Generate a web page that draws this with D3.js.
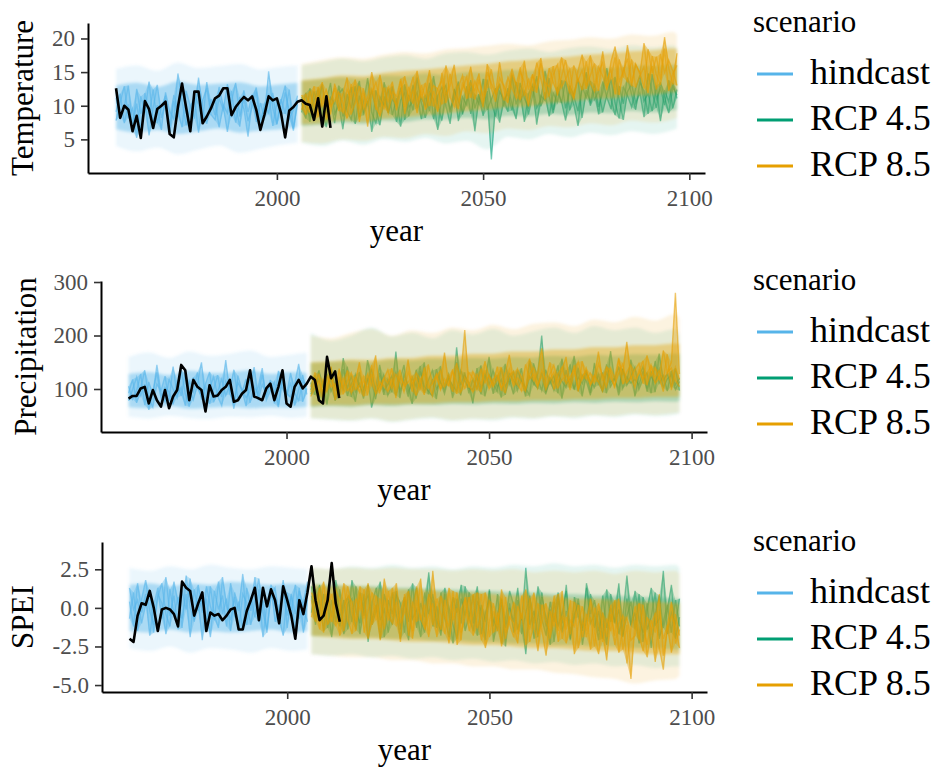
<!DOCTYPE html>
<html>
<head>
<meta charset="utf-8">
<script src="https://cdn.jsdelivr.net/npm/d3@7"></script>
<style>
  body { margin: 0; background: #fff; }
  svg { display: block; font-family: "Liberation Serif", "Times New Roman", serif; }
</style>
</head>
<body>
<div id="chart-div"></div>
<script>
// ---------- data ----------
const obsStart = 1961;
const hindStart = 1961;
const rcpStart = 2006;
const scenarios = ['hindcast', 'RCP 4.5', 'RCP 8.5'];
const scenarioColors = ['#56B4E9', '#009E73', '#E69F00'];
const yearTicks = [2000, 2050, 2100];

// years at which the ensemble spread was read
const hindKnots = [1961, 1966, 1971, 1976, 1981, 1986, 1991, 1996, 2001, 2005];
const rcpKnots = [2006, 2011, 2016, 2021, 2026, 2031, 2036, 2041, 2046, 2051,
                  2056, 2061, 2066, 2071, 2076, 2081, 2086, 2091, 2096, 2097];

// temperature
const tempObs = [12.6,8.2,10.0,9.4,6.2,8.5,5.2,10.7,9.5,6.7, 9.5,10.0,10.6,5.8,5.3,9.8,13.3,9.7,6.2,12.1,
  12.1,7.4,8.4,9.6,11.1,11.5,12.6,12.6,8.6,9.8, 10.6,11.3,10.8,11.4,9.4,6.4,8.7,11.4,10.8,11.1,
  8.9,5.3,9.3,9.8,10.6,10.8,10.3,10.1,7.9,11.1, 6.9,11.4,6.7];
const tempHindcast = [
  [9.1,11.8,7.4,10.2,6.3,12.5,8.8,10.9,5.6,9.7, 13.1,8.2,10.4,7.0,11.6,9.3,6.8,12.2,10.0,8.1,
   14.2,9.5,7.3,11.0,8.6,12.8,9.9,6.1,10.7,13.4, 8.4,11.2,7.7,9.8,12.1,6.5,10.3,8.9,11.9,7.2, 10.6,13.0,8.0,9.4,11.5],
  [7.8,10.5,12.9,8.3,9.6,5.2,11.4,9.0,13.6,7.5, 10.1,6.4,12.0,9.2,8.0,14.8,10.6,7.1,9.9,11.3,
   6.0,10.8,12.6,8.7,7.9,11.1,9.4,13.2,8.5,10.0, 6.9,12.3,9.1,11.7,7.6,10.4,8.2,15.1,9.7,7.3, 11.0,8.8,12.4,6.6,10.2],
  [11.2,8.4,9.9,13.0,7.1,10.3,6.2,11.9,8.6,12.4, 7.4,9.8,11.5,5.9,10.7,8.3,12.9,9.0,6.7,11.4,
   10.2,7.8,13.5,9.3,11.0,6.8,10.1,8.9,12.2,7.5, 11.3,9.5,5.4,10.8,12.7,8.1,9.6,11.8,7.0,10.5, 8.7,12.0,9.2,6.3,10.9]
];
const tempRcp45 = [
  [10.4,8.1,12.6,9.3,11.8,7.2,10.9,13.4,8.8,10.1, 6.5,11.7,9.6,12.9,8.3,10.6,14.1,9.0,7.4,11.3,
   10.0,12.5,8.6,11.1,6.9,13.2,9.8,10.7,12.0,8.0, 11.6,9.2,14.4,10.3,7.8,12.2,9.5,11.0,13.6,8.7,
   10.8,12.7,6.2,11.4,9.9,13.9,10.5,8.4,12.1,11.0, 9.1,14.6,10.2,12.4,7.6,11.8,13.1,9.7,10.9,15.2,
   11.5,8.9,12.8,10.4,13.7,9.3,11.9,14.0,8.2,12.3, 10.6,13.3,9.8,12.0,15.6,11.1,8.6,12.9,10.3,14.2,
   11.7,9.4,13.5,12.2,8.8,14.7,11.0,12.6,10.1,13.8, 9.6,12.4],
  [9.0,11.9,7.6,10.8,12.4,9.5,6.8,11.2,10.3,13.0, 8.4,10.0,12.8,7.3,11.5,9.1,10.7,6.1,12.3,9.8,
   13.5,8.9,11.0,10.2,12.7,7.9,11.6,9.3,14.2,10.5, 8.2,12.0,10.9,6.4,11.8,13.1,9.0,12.5,7.7,11.3,
   10.1,13.8,9.6,11.7,8.5,12.2,2.0,10.4,13.3,9.9, 12.6,10.3,8.0,13.4,11.1,9.7,12.9,7.2,11.5,10.8,
   14.1,9.4,12.2,10.6,7.8,13.0,11.4,9.2,12.7,15.0, 10.0,12.5,8.7,13.6,11.2,9.5,14.3,10.8,7.9,12.1,
   13.2,10.4,11.9,8.3,14.8,12.0,9.7,13.5,11.3,8.9, 12.8,11.6],
  [11.3,9.7,8.5,12.1,10.0,13.2,8.9,10.6,7.4,11.8, 12.5,9.2,7.9,11.0,13.7,8.6,10.4,12.2,9.5,7.1,
   11.4,9.0,12.9,7.6,10.8,11.9,8.4,13.1,9.7,11.2, 10.0,13.4,8.0,11.5,12.8,9.9,7.3,12.4,10.7,9.1,
   12.9,8.8,11.6,10.2,14.0,9.4,11.0,12.6,7.5,10.9, 11.8,9.3,13.5,10.6,12.1,8.7,11.4,14.4,9.9,12.0,
   8.4,11.9,10.5,13.8,9.6,12.4,10.1,7.0,12.9,11.2, 13.7,10.9,12.2,9.0,11.6,13.9,10.4,8.1,12.8,11.5,
   9.8,12.6,14.5,10.7,11.8,9.2,13.0,7.7,12.3,10.6, 13.4,11.1]
];
const tempRcp85 = [
  [10.9,8.6,12.2,9.8,11.4,13.5,7.9,10.7,12.6,9.2, 11.8,14.2,8.7,10.4,12.9,9.6,11.3,15.0,10.1,8.4,
   12.7,10.5,13.6,9.3,11.9,14.4,10.8,12.3,8.9,13.1, 11.2,15.3,9.9,12.6,13.8,10.4,14.7,11.7,9.5,13.3,
   12.0,15.8,10.9,13.9,11.4,16.2,12.5,10.6,14.1,13.0, 11.6,15.5,13.2,10.8,16.7,12.4,14.6,11.9,17.1,13.5,
   12.8,15.9,11.5,14.3,16.8,13.1,10.9,15.2,17.6,12.9, 14.5,16.3,12.2,18.1,13.8,15.4,11.7,16.9,14.2,19.0,
   13.4,16.1,15.0,12.6,18.4,14.8,17.3,13.9,20.2,15.6, 13.2,17.8],
  [9.4,11.7,10.3,7.8,12.8,10.0,11.5,8.7,13.3,10.6, 9.0,12.4,11.0,13.9,7.6,11.9,10.2,12.7,9.4,14.6,
   10.7,8.9,12.1,11.4,14.0,9.8,12.8,10.3,15.2,11.1, 13.4,10.0,12.2,9.1,14.9,11.6,13.0,16.1,10.5,12.5,
   14.3,11.2,13.6,12.1,9.8,15.0,13.3,11.8,16.5,12.6, 10.4,14.8,13.1,15.7,11.5,13.9,12.2,16.4,14.0,10.9,
   15.6,13.4,12.0,17.2,14.1,11.8,16.0,13.7,15.3,12.5, 17.5,13.0,15.8,14.4,12.3,16.6,18.8,13.6,15.1,17.0,
   12.9,16.2,14.7,19.3,13.8,15.9,12.4,17.7,14.9,16.8, 15.2,13.0],
  [11.6,10.2,9.1,12.9,8.3,11.0,12.4,9.9,10.8,12.0, 10.5,8.1,13.2,11.4,9.7,12.6,6.9,11.8,13.5,10.9,
   9.6,12.8,11.2,10.1,13.7,8.8,11.5,14.3,10.6,12.2, 9.4,11.9,13.0,12.5,10.2,16.0,11.3,9.8,12.9,14.5,
   11.0,13.4,12.2,14.8,10.5,12.7,15.4,11.9,13.1,10.8, 14.2,12.6,11.1,15.1,13.5,9.9,14.7,12.4,16.3,13.0,
   11.4,14.6,16.1,12.7,13.9,15.5,11.2,14.0,12.3,16.6, 13.3,12.1,15.0,16.4,12.8,14.1,17.2,11.6,15.7,13.5,
   16.9,12.7,14.4,15.8,11.9,17.4,14.6,13.1,18.5,12.2, 14.8,16.0]
];
// spread of all runs: [outer low, outer high, dense low, dense high]
const tempHindSpread = [
  [4.0,3.2,3.8,2.8,3.5,4.1,3.0,3.6,4.2,4.5],
  [15.5,16.0,15.2,16.4,15.6,15.9,16.2,15.4,15.8,16.0],
  [6.5,6.0,6.4,5.8,6.2,6.6,6.0,6.3,6.5,6.8],
  [13.0,13.4,12.8,13.6,13.1,13.3,13.5,12.9,13.2,13.4]
];
const tempRcp45Spread = [
  [4.5,4.0,4.8,4.2,5.0,4.6,5.2,4.4,4.8,3.5,5.4,5.0,5.8,5.3,6.0,5.6,6.2,5.8,6.4,6.6],
  [16.0,16.5,17.0,16.6,17.2,17.5,17.0,17.8,18.0,17.6,18.2,18.5,18.0,18.6,18.8,18.4,19.0,18.7,19.0,18.5],
  [7.0,7.2,7.5,7.3,7.8,7.6,8.0,7.9,8.2,8.0,8.5,8.4,8.8,8.6,9.0,8.9,9.2,9.0,9.3,9.4],
  [13.6,13.9,14.2,14.0,14.5,14.4,14.8,14.6,15.0,14.9,15.3,15.2,15.5,15.4,15.8,15.6,16.0,15.9,16.1,16.0]
];
const tempRcp85Spread = [
  [4.6,4.4,5.0,4.8,5.4,5.2,5.8,5.5,6.2,5.9,6.6,6.4,7.0,6.8,7.4,7.1,7.8,7.5,8.0,8.2],
  [16.2,16.8,17.2,17.0,17.6,18.0,17.8,18.4,18.6,18.9,19.2,19.0,19.6,19.8,20.2,20.0,20.6,20.4,21.0,20.6],
  [7.2,7.4,7.8,7.6,8.1,8.3,8.6,8.8,9.2,9.4,9.8,9.9,10.4,10.6,11.0,11.1,11.5,11.6,12.0,12.0],
  [13.8,14.1,14.5,14.4,14.9,15.2,15.4,15.7,16.0,16.2,16.6,16.8,17.1,17.3,17.6,17.8,18.1,18.2,18.5,18.4]
];
const tempTicks = [5, 10, 15, 20];

// precipitation
const precipObs = [82,87,87,101,104,73,98,79,67,98, 64,86,98,145,135,79,117,104,98,58,
  107,86,88,98,104,117,76,79,91,98, 135,86,83,79,101,110,79,104,135,73,
  67,104,117,101,110,123,117,79,73,160, 120,133,83];
const precipHindcast = [
  [92,118,74,101,135,83,66,109,97,124, 78,142,88,103,69,115,95,131,80,106,
   72,99,126,85,154,90,77,112,98,68, 121,87,104,139,79,96,113,70,128,93, 84,110,147,76,101],
  [105,81,97,128,70,113,89,145,94,76, 118,100,83,136,91,67,122,102,86,110,
   132,75,95,119,88,107,63,125,98,84, 96,141,79,108,92,117,73,134,101,87, 112,69,99,126,90],
  [78,99,122,88,109,61,94,131,83,103, 95,71,116,87,129,99,80,108,150,77,
   101,123,86,69,114,97,136,82,93,119, 74,105,90,127,85,111,98,66,120,89, 130,92,78,115,104]
];
const precipRcp45 = [
  [98,126,84,115,71,140,102,93,158,87, 110,76,132,99,121,65,104,145,89,118,
   94,170,83,127,108,72,136,101,150,90, 119,81,143,106,128,95,178,88,124,112,
   73,139,102,116,160,91,125,84,147,109, 132,97,118,86,153,107,129,200,94,121,
   111,144,82,135,103,162,96,126,115,88, 149,107,131,92,171,118,99,138,113,155,
   86,124,142,101,133,94,166,117,128,105, 139,97],
  [112,89,135,103,95,121,78,118,99,142, 85,127,106,92,154,114,81,130,97,108,
   125,88,119,145,94,110,82,133,105,96, 87,137,112,99,122,83,150,107,131,92,
   118,101,144,86,127,112,95,139,104,121, 90,134,115,102,88,148,119,97,136,110,
   125,92,157,108,119,101,140,86,131,116, 103,128,94,146,112,121,88,137,107,124,
   141,99,118,130,92,152,111,125,96,134, 108,120],
  [90,105,118,80,128,96,112,84,137,101, 124,95,110,82,116,138,92,105,127,88,
   108,131,97,115,86,122,104,143,93,117, 135,100,113,91,120,107,96,134,115,101,
   99,123,90,128,108,135,103,118,89,129, 116,106,139,93,124,112,101,131,90,118,
   97,129,114,103,146,99,122,110,135,93, 126,115,97,133,104,119,142,101,123,111,
   118,107,133,95,124,112,137,103,119,126, 99,114]
];
const precipRcp85 = [
  [104,131,88,117,96,142,79,123,101,135, 92,114,150,86,127,105,163,97,120,111,
   139,83,124,108,155,95,131,118,89,146, 112,128,99,168,106,137,91,124,210,103,
   133,115,94,152,121,108,142,97,129,164, 110,138,123,99,157,116,131,176,104,127,
   145,112,134,160,98,129,151,118,139,107, 124,170,115,142,131,101,155,126,188,119,
   136,148,110,163,125,140,117,172,131,150, 280,128],
  [95,112,128,82,109,121,97,138,90,114, 130,99,107,124,88,145,111,93,119,136,
   102,127,115,94,132,109,121,98,140,112, 87,119,135,104,126,95,149,115,101,131,
   120,99,138,112,126,104,117,141,92,124, 133,108,96,146,119,128,102,135,117,150,
   99,128,141,110,123,136,95,152,118,130, 112,147,126,104,139,121,158,109,132,145,
   118,129,153,107,141,122,134,116,165,98, 140,118],
  [86,101,115,93,124,104,110,88,119,97, 105,121,94,116,101,128,90,113,106,95,
   118,99,136,105,112,124,87,117,129,102, 110,125,98,119,106,132,114,93,122,108,
   94,127,109,135,100,118,126,103,112,137, 105,121,111,96,128,140,107,124,99,118,
   131,102,117,126,111,144,98,123,134,109, 125,113,96,138,120,106,129,147,111,122,
   102,135,119,128,145,110,123,95,131,139, 116,104]
];
const precipHindSpread = [
  [48,45,50,46,44,48,47,50,46,48],
  [160,168,158,170,162,166,172,160,164,168],
  [66,64,68,63,65,67,64,66,65,67],
  [128,132,126,134,130,131,135,128,132,130]
];
const precipRcp45Spread = [
  [45,42,40,44,38,42,45,40,43,41,46,44,48,45,50,47,52,49,52,54],
  [205,190,200,215,198,205,195,210,202,212,200,208,215,205,218,210,215,205,212,200],
  [66,68,67,70,68,71,70,72,71,73,72,74,73,75,74,76,75,77,76,78],
  [148,150,152,150,154,153,156,155,158,157,160,159,162,160,164,162,165,164,166,165]
];
const precipRcp85Spread = [
  [46,44,42,46,40,44,47,42,45,44,48,46,50,48,52,50,54,52,55,56],
  [200,195,205,212,200,210,205,215,210,220,212,222,225,218,230,225,235,228,240,232],
  [68,70,69,72,71,73,73,75,75,77,77,79,79,81,81,83,83,85,85,86],
  [150,152,155,154,158,158,162,162,166,166,170,170,174,174,178,178,182,182,185,184]
];
const precipTicks = [100, 200, 300];

// SPEI
const speiObs = [-2.0,-2.2,-0.5,0.3,0.2,1.1,0.0,-1.5,-0.1,0.0, -0.1,-0.4,-1.2,1.7,1.3,1.1,-0.5,0.3,1.0,-1.5,
  -0.3,-0.5,-0.4,-0.8,-0.5,-0.1,0.0,-1.4,-1.4,-0.2, 0.5,1.3,-0.8,1.3,0.1,1.2,0.5,-1.0,1.4,0.5,
  -0.5,-2.0,0.5,-0.4,1.0,2.7,0.5,-0.8,-0.5,0.5, 2.9,0.3,-0.9];
const speiHindcast = [
  [0.4,-1.2,1.6,-0.3,0.9,-1.8,0.2,1.3,-0.7,2.0, -0.5,0.8,-1.4,1.1,-0.1,1.9,-0.9,0.5,-2.1,1.4,
   0.1,-0.8,1.7,-0.4,0.6,-1.5,1.0,-0.2,2.2,-1.1, 0.7,-0.6,1.2,-1.9,0.3,1.5,-0.9,0.0,1.8,-1.3, 0.9,-0.4,1.3,-1.6,0.5],
  [-0.7,1.0,-1.5,0.6,1.8,-0.2,-1.1,0.9,0.3,-1.7, 1.2,-0.4,0.7,-1.3,2.1,0.0,-0.8,1.5,-0.3,0.6,
   -1.9,1.1,-0.1,0.8,-1.2,1.6,-0.6,0.4,-1.4,1.3, -0.2,2.0,-0.9,0.5,-1.6,1.0,0.2,-1.0,1.4,-0.5, 0.8,-1.8,1.1,0.1,-0.9],
  [1.3,-0.1,0.5,-1.0,0.2,1.1,-1.6,0.7,1.6,-0.4, -1.2,1.7,0.3,-0.7,0.9,-1.9,1.2,-0.2,0.6,-1.0,
   1.4,-0.5,-1.3,2.0,0.1,-0.8,0.7,-1.5,0.9,0.3, -1.1,0.6,1.9,-0.3,-1.4,0.8,1.3,-0.6,-1.8,1.0, -0.2,1.5,-0.7,0.4,1.7]
];
const speiRcp45 = [
  [0.8,-1.1,1.5,-0.4,0.2,-1.9,1.1,-0.7,0.5,-1.4, 1.8,-0.2,-1.0,0.9,-2.2,0.4,1.3,-0.8,-0.1,-1.6,
   1.0,-0.5,-2.0,0.7,-0.9,1.6,-1.3,0.3,-0.6,2.3, -1.2,0.1,-1.8,0.9,-0.4,-2.3,0.6,-1.0,1.4,-0.7,
   -1.5,0.4,-0.2,-2.1,1.1,-0.8,-1.4,0.5,-2.5,0.0, -0.9,1.3,-1.7,-0.3,0.8,-2.0,-0.6,1.0,-1.2,-0.1,
   -2.2,0.6,-1.0,1.5,-1.6,-0.4,0.3,-2.4,-0.8,0.9, -1.3,-0.2,-2.0,1.2,-0.9,0.4,-1.7,-0.5,2.1,-1.1,
   -0.3,-2.3,0.7,-1.4,-0.6,1.0,-2.0,-0.9,0.2,-1.6, 0.5,-1.2],
  [-0.3,1.2,0.4,-1.5,0.9,-0.6,1.8,-1.2,0.1,0.7, -0.9,1.4,-1.7,0.3,0.8,-1.1,-0.2,1.7,-1.9,0.5,
   -0.4,1.1,-1.4,0.6,-2.1,0.2,1.3,-0.8,-1.6,0.9, 0.4,-1.3,1.0,-0.7,-1.9,0.7,-0.3,1.5,-1.5,-0.5,
   0.8,-1.8,0.2,-0.9,1.2,-2.2,-0.4,0.6,-1.3,0.3, -1.6,0.5,-0.8,2.6,-1.1,-0.2,-1.9,0.7,-0.6,-2.4,
   0.4,-1.2,-0.3,1.1,-2.0,-0.7,0.6,-1.5,1.3,-1.0, -0.4,-2.1,0.8,-1.3,0.0,-0.9,1.6,-1.8,-0.5,0.4,
   -1.4,0.9,-2.2,-0.2,1.3,-1.1,-0.7,2.4,-1.7,-0.3, -1.0,0.6],
  [1.4,-0.6,-0.2,0.9,-1.3,0.5,-0.9,1.2,-1.7,0.3, 0.6,-1.4,1.0,-0.5,1.5,-0.8,0.2,-2.0,0.9,-0.3,
   -1.1,0.8,0.3,-1.6,1.2,-0.7,-0.1,-1.9,1.0,-0.4, 0.9,-0.8,-1.5,1.3,0.0,-1.1,-2.0,0.6,-0.5,1.0,
   -1.0,1.4,-1.7,-0.3,0.5,-1.2,0.9,-2.3,-0.6,1.1, 0.2,-1.4,-0.5,-3.0,0.6,-1.0,1.4,-0.8,-1.8,0.4,
   -0.9,1.0,-1.6,-0.2,-2.1,0.7,-0.6,-1.3,1.6,-0.4, 0.5,-1.5,-0.3,-2.4,0.9,-1.0,-0.1,-1.9,0.6,-1.2,
   1.1,-0.8,-1.6,0.3,-2.6,-0.4,0.8,-1.3,-0.2,1.5, -2.0,-0.6]
];
const speiRcp85 = [
  [0.5,-0.9,1.3,-1.6,0.2,0.9,-1.2,-0.3,1.6,-0.8, -1.7,0.6,-0.1,1.2,-2.0,-0.6,0.8,-1.3,1.9,-0.4,
   -1.0,0.4,-2.2,0.9,-0.5,-1.5,1.4,-0.8,0.2,-1.9, 2.4,-0.7,-1.4,0.5,-2.3,-0.2,1.0,-1.6,-0.6,0.7,
   -1.8,-0.4,0.9,-2.6,-0.9,0.3,-1.5,1.2,-2.0,-0.7, 0.4,-1.7,-0.3,-2.4,0.6,-1.2,-2.8,0.2,-0.9,-1.6,
   0.8,-2.2,-0.5,-1.4,0.5,-3.0,-1.0,0.1,-1.9,-0.6, -2.5,0.3,-1.3,-3.4,-0.4,-1.8,0.6,-2.7,-1.1,-4.6,
   -0.8,-2.1,0.2,-3.2,-1.5,-0.3,-2.6,-4.0,-1.2,0.4, -2.3,-1.4],
  [-0.6,0.8,-1.4,0.3,1.1,-0.9,0.6,-1.8,0.0,1.4, -0.3,-1.5,0.9,-0.7,1.6,-1.1,0.2,-2.1,0.5,-0.8,
   1.3,-1.2,-0.2,0.7,-1.8,0.4,-0.9,1.9,-1.4,-0.5, 0.3,-1.9,0.8,-0.6,-1.2,1.1,-2.4,-0.1,0.6,-1.5,
   -0.4,1.0,-2.1,-0.8,0.5,-1.6,-0.3,-2.5,0.7,-1.1, -1.9,0.1,-0.7,1.2,-2.2,-1.0,0.3,-1.5,-3.1,-0.2,
   -1.2,0.9,-2.0,-0.6,-1.7,0.4,-2.6,-0.9,-1.4,0.6, -1.6,-3.0,-0.3,-1.9,0.2,-2.4,-1.0,-0.5,-3.6,-1.3,
   0.1,-1.7,-2.8,-0.6,-1.4,-3.5,-0.2,-2.0,-1.1,-2.9, -0.4,-1.8],
  [1.0,0.2,-0.7,1.7,-1.1,-0.4,1.2,0.5,-1.5,0.8, 0.4,-0.9,1.4,-1.6,-0.2,1.0,-0.8,0.6,-1.4,1.1,
   -0.6,1.6,-1.0,-0.3,1.1,-2.0,0.5,-0.7,-1.3,0.9, -1.1,0.6,-0.4,-1.7,1.3,-0.8,0.0,-2.1,0.7,-1.0,
   0.9,-1.3,-0.5,1.0,-1.9,-0.2,-1.1,0.6,-1.6,-0.6, -1.0,-2.3,0.8,-0.5,-1.4,1.0,-1.8,-0.9,0.3,-2.0,
   -0.3,-1.5,1.1,-2.3,-0.8,-1.2,0.2,-1.9,-0.4,-2.7, 0.0,-1.1,-2.2,-0.7,-1.5,0.5,-2.9,-1.3,-0.6,-2.1,
   -1.8,0.3,-1.2,-2.4,-0.8,-1.6,0.9,-3.1,-1.4,-0.5, -1.2,-2.6]
];
const speiHindSpread = [
  [-2.6,-2.8,-2.5,-2.9,-2.6,-2.7,-2.9,-2.6,-2.8,-2.7],
  [2.6,2.4,2.7,2.5,2.8,2.6,2.5,2.7,2.6,2.5],
  [-1.5,-1.6,-1.4,-1.6,-1.5,-1.6,-1.5,-1.4,-1.6,-1.5],
  [1.5,1.6,1.4,1.6,1.5,1.7,1.6,1.5,1.6,1.5]
];
const speiRcp45Spread = [
  [-3.0,-3.1,-3.0,-3.2,-3.1,-3.3,-3.2,-3.4,-3.3,-3.5,-3.4,-3.6,-3.5,-3.7,-3.6,-3.8,-3.7,-3.9,-3.8,-3.8],
  [2.6,2.5,2.7,2.6,2.8,2.6,2.7,2.5,2.7,2.6,2.8,2.7,2.9,2.7,2.8,2.6,2.8,2.7,2.8,2.6],
  [-1.8,-1.8,-1.9,-1.9,-2.0,-2.0,-2.1,-2.1,-2.2,-2.2,-2.3,-2.3,-2.4,-2.4,-2.5,-2.5,-2.6,-2.6,-2.7,-2.7],
  [1.5,1.5,1.4,1.4,1.3,1.3,1.2,1.2,1.1,1.1,1.0,1.0,0.9,0.9,0.8,0.8,0.7,0.7,0.6,0.6]
];
const speiRcp85Spread = [
  [-3.0,-3.1,-3.2,-3.2,-3.4,-3.4,-3.6,-3.6,-3.8,-3.8,-4.0,-4.0,-4.2,-4.3,-4.5,-4.6,-4.9,-4.7,-4.6,-4.4],
  [2.6,2.5,2.6,2.5,2.6,2.5,2.5,2.4,2.5,2.4,2.5,2.3,2.4,2.3,2.4,2.2,2.4,2.3,2.4,2.2],
  [-1.8,-1.9,-2.0,-2.0,-2.1,-2.2,-2.2,-2.3,-2.4,-2.4,-2.5,-2.6,-2.6,-2.7,-2.8,-2.8,-2.9,-3.0,-3.0,-3.0],
  [1.5,1.4,1.4,1.3,1.2,1.2,1.1,1.0,1.0,0.9,0.8,0.8,0.7,0.6,0.6,0.5,0.4,0.4,0.3,0.3]
];
const speiTicks = [-5.0, -2.5, 0.0, 2.5];

// ---------- layout ----------
const width = 940;
const height = 769;
const xDomain = [1954.2, 2103.8];

const panels = [
  { title: 'Temperature', obs: tempObs, runs: [tempHindcast, tempRcp45, tempRcp85],
    spread: [tempHindSpread, tempRcp45Spread, tempRcp85Spread], ticks: tempTicks,
    fmt: d3.format('d'), yDomain: [0, 22.3], left: 88, right: 705, top: 23, bottom: 173, titleX: 33 },
  { title: 'Precipitation', obs: precipObs, runs: [precipHindcast, precipRcp45, precipRcp85],
    spread: [precipHindSpread, precipRcp45Spread, precipRcp85Spread], ticks: precipTicks,
    fmt: d3.format('d'), yDomain: [19.6, 301.9], left: 101, right: 707, top: 281, bottom: 432, titleX: 36 },
  { title: 'SPEI', obs: speiObs, runs: [speiHindcast, speiRcp45, speiRcp85],
    spread: [speiHindSpread, speiRcp45Spread, speiRcp85Spread], ticks: speiTicks,
    fmt: d => d.toFixed(1), yDomain: [-5.45, 4.27], left: 102, right: 707, top: 542, bottom: 692, titleX: 33 }
];
const runStarts = [hindStart, rcpStart, rcpStart];
const runKnots = [hindKnots, rcpKnots, rcpKnots];
// how strongly each scenario is painted: outer haze, dense core, member envelope, member lines
const runAlpha = [
  [0.12, 0.42, 0.35, 0.55],
  [0.10, 0.28, 0.30, 0.50],
  [0.12, 0.40, 0.38, 0.55]
];

const svg = d3.select('#chart-div').append('svg')
    .attr('width', width)
    .attr('height', height)
    .attr('viewBox', [0, 0, width, height]);

const defs = svg.append('defs');
defs.append('filter')
    .attr('id', 'haze')
    .attr('x', '-10%').attr('y', '-20%').attr('width', '120%').attr('height', '140%')
  .append('feGaussianBlur')
    .attr('stdDeviation', 1.8);
defs.append('filter')
    .attr('id', 'soft')
    .attr('x', '-5%').attr('y', '-10%').attr('width', '110%').attr('height', '120%')
  .append('feGaussianBlur')
    .attr('stdDeviation', 0.6);

panels.forEach(p => {
  const xScale = d3.scaleLinear().domain(xDomain).range([p.left, p.right]);
  const yScale = d3.scaleLinear().domain(p.yDomain).range([p.bottom, p.top]);

  const g = svg.append('g');

  const line = d3.line()
      .x(d => xScale(d.year))
      .y(d => yScale(d.value));

  const smoothArea = d3.area()
      .curve(d3.curveMonotoneX)
      .x(d => xScale(d.year))
      .y0(d => yScale(d.lo))
      .y1(d => yScale(d.hi));

  const area = d3.area()
      .x(d => xScale(d.year))
      .y0(d => yScale(d.lo))
      .y1(d => yScale(d.hi));

  // ensemble runs: hazy spread of all runs, then the single runs on top
  p.runs.forEach((members, si) => {
    const start = runStarts[si];
    const color = scenarioColors[si];
    const [outLo, outHi, coreLo, coreHi] = p.spread[si];
    const knots = runKnots[si];
    const alpha = runAlpha[si];

    const haze = g.append('g').attr('filter', 'url(#haze)');
    haze.append('path')
        .datum(knots.map((yr, i) => ({ year: yr, lo: outLo[i], hi: outHi[i] })))
        .attr('d', smoothArea)
        .attr('fill', color)
        .attr('fill-opacity', alpha[0]);
    haze.append('path')
        .datum(knots.map((yr, i) => ({ year: yr, lo: coreLo[i], hi: coreHi[i] })))
        .attr('d', smoothArea)
        .attr('fill', color)
        .attr('fill-opacity', alpha[1]);

    const soft = g.append('g').attr('filter', 'url(#soft)');
    const n = d3.min(members, m => m.length);
    soft.append('path')
        .datum(d3.range(n).map(i => ({
          year: start + i,
          lo: d3.min(members, m => m[i]),
          hi: d3.max(members, m => m[i])
        })))
        .attr('d', area)
        .attr('fill', color)
        .attr('fill-opacity', alpha[2]);

    soft.selectAll('.run')
        .data(members.map(m => m.map((v, i) => ({ year: start + i, value: v }))))
      .enter().append('path')
        .attr('class', 'run')
        .attr('d', line)
        .attr('fill', 'none')
        .attr('stroke', color)
        .attr('stroke-width', 1.4)
        .attr('stroke-opacity', alpha[3]);
  });

  // observed series
  g.append('path')
      .datum(p.obs.map((v, i) => ({ year: obsStart + i, value: v })))
      .attr('d', line)
      .attr('fill', 'none')
      .attr('stroke', '#000')
      .attr('stroke-width', 2.6)
      .attr('stroke-linejoin', 'round');

  // axes
  const xAxis = d3.axisBottom(xScale)
      .tickValues(yearTicks)
      .tickFormat(d3.format('d'))
      .tickSizeInner(7)
      .tickSizeOuter(0)
      .tickPadding(10);

  const yAxis = d3.axisLeft(yScale)
      .tickValues(p.ticks)
      .tickFormat(p.fmt)
      .tickSizeInner(7)
      .tickSizeOuter(0)
      .tickPadding(6);

  const xAxisG = g.append('g')
      .attr('transform', `translate(0,${p.bottom})`)
      .call(xAxis);

  const yAxisG = g.append('g')
      .attr('transform', `translate(${p.left},0)`)
      .call(yAxis);

  [xAxisG, yAxisG].forEach(a => {
    a.select('.domain').attr('stroke', '#000').attr('stroke-width', 2);
    a.selectAll('.tick line').attr('stroke', '#333').attr('stroke-width', 1.6);
    a.selectAll('.tick text')
        .attr('fill', '#4d4d4d')
        .style('font-family', '"Liberation Serif", serif')
        .style('font-size', '23px');
  });

  // axis titles
  g.append('text')
      .attr('x', (p.left + p.right) / 2)
      .attr('y', p.bottom + 68)
      .attr('text-anchor', 'middle')
      .attr('font-size', 31)
      .attr('fill', '#000')
      .text('year');

  g.append('text')
      .attr('transform', `translate(${p.titleX},${(p.top + p.bottom) / 2}) rotate(-90)`)
      .attr('text-anchor', 'middle')
      .attr('font-size', 31)
      .attr('fill', '#000')
      .text(p.title);

  // legend
  const legend = g.append('g')
      .attr('transform', `translate(753,${p.top})`);

  legend.append('text')
      .attr('x', 0)
      .attr('y', 9)
      .attr('font-size', 31)
      .attr('fill', '#000')
      .text('scenario');

  const items = legend.selectAll('.item')
      .data(scenarios)
    .enter().append('g')
      .attr('class', 'item')
      .attr('transform', (d, i) => `translate(0,${51 + i * 46})`);

  items.append('line')
      .attr('x1', 4).attr('x2', 40)
      .attr('stroke', (d, i) => scenarioColors[i])
      .attr('stroke-width', 3);

  items.append('text')
      .attr('x', 57)
      .attr('dy', '0.28em')
      .attr('font-size', 36)
      .attr('fill', '#000')
      .text(d => d);
});
</script>
</body>
</html>
